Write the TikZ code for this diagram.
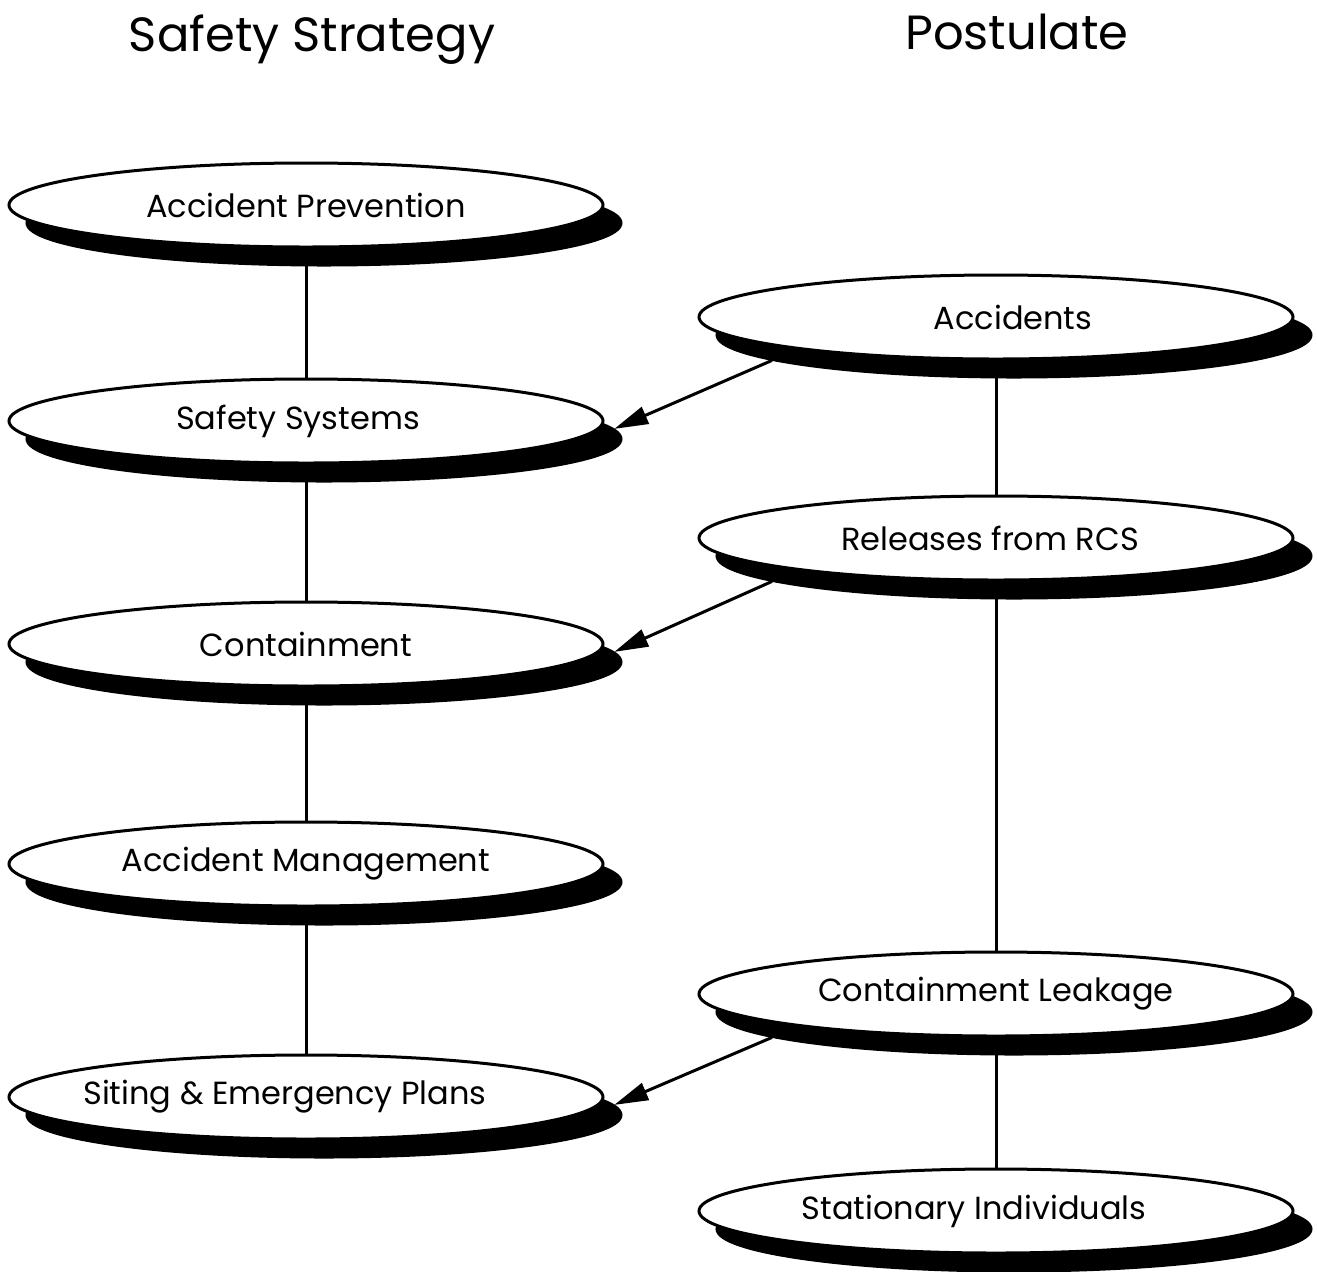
\documentclass[tikz,border=0pt]{standalone}
\usepackage{fontspec}
\setmainfont{Poppins}
\usetikzlibrary{arrows.meta,backgrounds,shapes.geometric}
% move a label sideways inside its node without changing the node size
\newcommand\nudge[2]{\kern#1\relax #2\kern-#1\relax}
\begin{document}
\begin{tikzpicture}[x=0.5pt,y=-0.5pt,
  bubble/.style={ellipse,draw=black,line width=1.5pt,fill=white,
    minimum width=297pt,minimum height=42pt,inner sep=0pt,
    font=\fontsize{16}{19}\selectfont},
  dropell/.style={ellipse,draw=black,fill=black,line width=1.5pt,
    minimum width=297pt,minimum height=42pt,inner sep=0pt},
  title/.style={anchor=base,font=\fontsize{24}{28}\selectfont},
  link/.style={line width=1.5pt},
  feed/.style={line width=1.5pt,-{Triangle[length=17pt,width=9pt]}}]
\useasboundingbox (0,0) rectangle (1317,1271);

% column headings
\node[title] (hl) at (312,51) {Safety Strategy};
\node[title] (hr) at (1017,49) {Postulate};

% shadows, offset down and to the right
\foreach \n/\x/\y in {apS/306/205, ssS/306/421, coS/306/644, amS/306/864, siS/306/1097,
                      acS/996/317, reS/996/538, clS/996/994, stS/996/1211}
  \node[dropell] (\n) at (\x+18,\y+18) {};

% safety strategy column
\node[bubble] (ap) at (306,205) {Accident Prevention};
\node[bubble] (ss) at (306,421) {\nudge{-4pt}{Safety Systems}};
\node[bubble] (co) at (306,644) {Containment};
\node[bubble] (am) at (306,864) {Accident Management};
\node[bubble] (si) at (306,1097) {\nudge{-10.5pt}{Siting \& Emergency Plans}};

% postulate column
\node[bubble] (ac) at (996,317) {\nudge{8.5pt}{Accidents}};
\node[bubble] (re) at (996,538) {\nudge{-3pt}{Releases from RCS}};
\node[bubble] (cl) at (996,994) {Containment Leakage};
\node[bubble] (st) at (996,1211) {\nudge{-11pt}{Stationary Individuals}};

% vertical links behind the ellipses
\begin{scope}[on background layer]
  \draw[link] (ap) -- (ss) -- (co) -- (am) -- (si);
  \draw[link] (ac) -- (re) -- (cl) -- (st);
\end{scope}

% postulates feeding the strategy levels
\draw[feed] (acS.186) -- (ssS.2);
\draw[feed] (reS.186) -- (coS.2);
\draw[feed] (clS.186) -- (siS.2);
\end{tikzpicture}
\end{document}
